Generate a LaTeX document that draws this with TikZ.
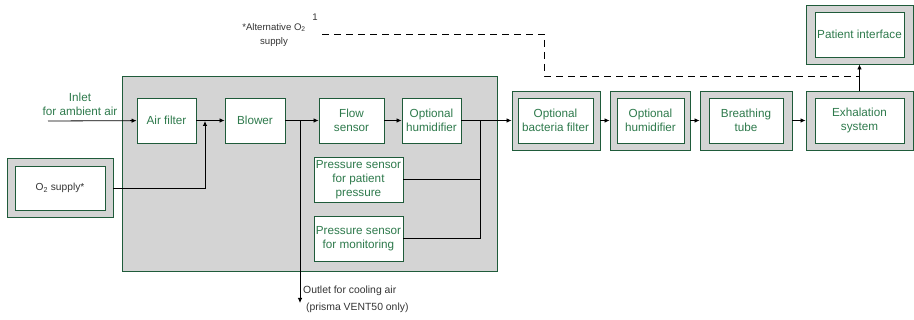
\documentclass[tikz,border=0pt]{standalone}
\usepackage{fontspec}
\setmainfont{Liberation Sans}
\usetikzlibrary{arrows.meta}

\definecolor{boxgreen}{HTML}{1F5B3A}
\definecolor{txtgreen}{HTML}{2E7A4C}
\definecolor{framegray}{HTML}{D4D4D4}
\definecolor{notegray}{HTML}{333333}

\tikzset{
  box/.style={draw=boxgreen, line width=0.9pt, fill=white, text=txtgreen, align=center,
    inner sep=0pt, minimum height=45, font=\fontsize{11.7}{14.3}\selectfont},
  frame/.style={draw=boxgreen, line width=0.9pt, fill=framegray, inner sep=0pt, minimum height=59},
  note/.style={text=notegray, align=center, inner sep=0pt, font=\fontsize{9.6}{14}\selectfont},
  flow/.style={line width=0.8pt, -{Latex[length=5pt,width=4.5pt]}},
  link/.style={line width=0.8pt}
}

\begin{document}
\begin{tikzpicture}[x=1pt,y=-1pt]
  \useasboundingbox (0,0) rectangle (914,320);
  % device housing
  \node[frame, minimum width=375, minimum height=195] (device) at (309.5,173.5) {};
  \node[box, minimum width=59] (filter) at (166.5,120.5) {Air filter};
  \node[box, minimum width=60] (blower) at (255,120.5) {Blower};
  \node[box, minimum width=65] (flow) at (351.5,120.5) {Flow\\sensor};
  \node[box, minimum width=59] (humid) at (431.5,120.5) {Optional\\humidifier};
  \node[box, minimum width=89] (pspat) at (358.5,179.5) {Pressure sensor\\for patient\\pressure};
  \node[box, minimum width=89] (psmon) at (358.5,238.5) {Pressure sensor\\for monitoring};
  % oxygen
  \node[frame, minimum width=106] (oxyframe) at (60,187.5) {};
  \node[box, minimum width=90, minimum height=44, text=notegray,
        font=\fontsize{10.2}{12}\selectfont] (oxy) at (60,188) {O\textsubscript{2} supply*};
  % accessories
  \node[frame, minimum width=88] (bactframe) at (556,120.5) {};
  \node[box, minimum width=75] (bact) at (555.5,120.5) {Optional\\bacteria filter};
  \node[frame, minimum width=80] (humid2frame) at (650,120.5) {};
  \node[box, minimum width=67] (humid2) at (650.5,120.5) {Optional\\humidifier};
  \node[frame, minimum width=92] (tubeframe) at (746,120.5) {};
  \node[box, minimum width=74] (tube) at (746,120.5) {Breathing\\tube};
  \node[frame, minimum width=107] (exhframe) at (859.5,120.5) {};
  \node[box, minimum width=89] (exh) at (859.5,120.5) {Exhalation\\system};
  \node[frame, minimum width=107] (patframe) at (859.5,34.5) {};
  \node[box, minimum width=89] (pat) at (859.5,34.5) {Patient interface};
  % texts
  \node[align=center, text=txtgreen, inner sep=0pt, font=\fontsize{11.7}{14.3}\selectfont]
    (inlet) at (80,104) {Inlet\\for ambient air};
  \node[note] (alt) at (274,35) {*Alternative O\textsubscript{2}\\supply};
  \node[note] (altref) at (315,17) {1};
  \node[note, align=left, anchor=west, font=\fontsize{10.4}{17}\selectfont]
    (outlet) at (303,299.5) {Outlet for cooling air\\\hspace{3pt}(prisma VENT50 only)};
  \coordinate (in) at (48,121);
  \coordinate (mix) at (205,121);
  \coordinate (split) at (300,121);
  \coordinate (out) at (300,303);
  \coordinate (join) at (480,121);
  \coordinate (altstart) at (322,34);
  \coordinate (altend) at (859.5,76);
  % main path
  \draw[flow] (in) -- (filter);
  \draw[flow] (filter) -- (blower);
  \draw[flow] (oxyframe.east |- oxy) -| (mix);
  \draw[flow] (blower) -- (flow);
  \draw[flow] (split) -- (out);
  \draw[flow] (flow) -- (humid);
  \draw[flow] (humid) -- (bactframe);
  \draw[link] (pspat) -| (join);
  \draw[link] (psmon) -| (join);
  \draw[flow] (bactframe) -- (humid2frame);
  \draw[flow] (humid2frame) -- (tubeframe);
  \draw[flow] (tubeframe) -- (exhframe);
  \draw[flow] (exhframe) -- (patframe);
  \draw[link, dashed, dash pattern=on 7pt off 5pt] (altstart) -- (544,34) |- (altend);
\end{tikzpicture}
\end{document}
